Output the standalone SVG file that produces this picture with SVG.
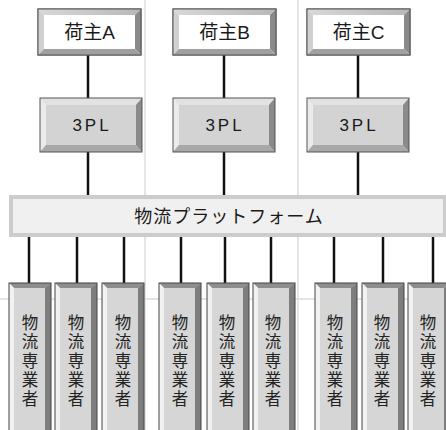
<svg xmlns="http://www.w3.org/2000/svg" width="446" height="430" viewBox="0 0 446 430">
<style>
.t{font-family:"Liberation Sans","Noto Sans CJK JP",sans-serif;font-size:19px;fill:#1a1a1a;text-anchor:middle}
.p{font-family:"Liberation Sans","Noto Sans CJK JP",sans-serif;font-size:17px;fill:#1a1a1a;text-anchor:middle;letter-spacing:3px}
.f{font-family:"Noto Sans CJK JP",sans-serif;font-size:18px;fill:#1a1a1a;text-anchor:middle;letter-spacing:1px}
.v{font-family:"Liberation Sans","Noto Sans CJK JP",sans-serif;font-size:16.5px;fill:#222;text-anchor:middle}
.ln{stroke:#111;stroke-width:2.5}
.grid{stroke:#ddd;stroke-width:1.5}
</style>
<defs>
<linearGradient id="gt" x1="0" y1="0" x2="1" y2="0"><stop offset="0" stop-color="#d8d8d8"/><stop offset="1" stop-color="#b8b8b8"/></linearGradient>
<g id="shipper">
<rect x="0" y="0" width="103" height="46" fill="#fff" stroke="#555" stroke-width="1"/>
<polygon points="0,0 103,0 97,6 6,6" fill="url(#gt)"/>
<polygon points="0,0 6,6 6,40 0,46" fill="#d0d0d0"/>
<polygon points="103,0 103,46 97,40 97,6" fill="#8a8a8a"/>
<polygon points="0,46 103,46 97,40 6,40" fill="#a0a0a0"/>
<rect x="0" y="0" width="103" height="46" fill="none" stroke="#555" stroke-width="1"/>
</g>
<g id="tpl">
<rect x="0" y="0" width="102" height="54" fill="#d3d3d3"/>
<polygon points="0,0 102,0 96,7 6,7" fill="#e2e2e2"/>
<polygon points="0,0 6,7 6,47 0,54" fill="#ebebeb"/>
<polygon points="102,0 102,54 96,47 96,7" fill="#8a8a8a"/>
<polygon points="0,54 102,54 96,47 6,47" fill="#a8a8a8"/>
<rect x="0" y="0" width="102" height="54" fill="none" stroke="#555" stroke-width="1"/>
</g>
<g id="vbox">
<rect x="0" y="0" width="42" height="160" fill="#d6d6d6"/>
<polygon points="0,0 42,0 36,5 5,5" fill="#8e8e8e"/>
<polygon points="0,0 5,5 5,160 0,160" fill="#f2f2f2"/>
<polygon points="42,0 42,160 36,160 36,5" fill="#7e7e7e"/>
<rect x="0" y="0" width="42" height="160" fill="none" stroke="#444" stroke-width="1"/>
</g>
</defs>
<rect width="446" height="430" fill="#fff"/>
<g id="grid">
<line class="grid" x1="145" y1="0" x2="145" y2="430"/>
<line class="grid" x1="298" y1="0" x2="298" y2="430"/>
<line class="grid" x1="0" y1="299" x2="446" y2="299"/>
</g>
<g id="connectors">
<line class="ln" x1="88" y1="55" x2="88" y2="98"/>
<line class="ln" x1="224" y1="55" x2="224" y2="98"/>
<line class="ln" x1="358" y1="55" x2="358" y2="98"/>
<line class="ln" x1="88" y1="152" x2="88" y2="195"/>
<line class="ln" x1="224" y1="152" x2="224" y2="195"/>
<line class="ln" x1="358" y1="152" x2="358" y2="195"/>
<line class="ln" x1="29" y1="237" x2="29" y2="283"/>
<line class="ln" x1="77" y1="237" x2="77" y2="283"/>
<line class="ln" x1="124" y1="237" x2="124" y2="283"/>
<line class="ln" x1="181" y1="237" x2="181" y2="283"/>
<line class="ln" x1="225" y1="237" x2="225" y2="283"/>
<line class="ln" x1="271" y1="237" x2="271" y2="283"/>
<line class="ln" x1="334" y1="237" x2="334" y2="283"/>
<line class="ln" x1="383" y1="237" x2="383" y2="283"/>
<line class="ln" x1="433" y1="237" x2="433" y2="283"/>
</g>
<g id="shipperA"><use href="#shipper" x="38" y="9"/><text class="t" x="89.5" y="39">荷主A</text></g>
<g id="shipperB"><use href="#shipper" x="173" y="9"/><text class="t" x="224.5" y="39">荷主B</text></g>
<g id="shipperC"><use href="#shipper" x="307" y="9"/><text class="t" x="358.5" y="39">荷主C</text></g>
<g id="tplA"><use href="#tpl" x="40" y="98"/><text class="p" x="92" y="131">3PL</text></g>
<g id="tplB"><use href="#tpl" x="173" y="98"/><text class="p" x="225" y="131">3PL</text></g>
<g id="tplC"><use href="#tpl" x="307" y="98"/><text class="p" x="359" y="131">3PL</text></g>
<g id="platform">
<rect x="9" y="195" width="437" height="42" fill="#cccccc"/>
<rect x="13" y="199" width="430" height="34" fill="#f0f0f0"/>
<text class="f" x="229" y="223">物流プラットフォーム</text>
</g>
<g id="v1"><use href="#vbox" x="9" y="283"/><text class="v" x="30" y="329"><tspan x="30">物</tspan><tspan x="30" dy="19">流</tspan><tspan x="30" dy="19">専</tspan><tspan x="30" dy="19">業</tspan><tspan x="30" dy="19">者</tspan></text></g>
<g id="v2"><use href="#vbox" x="55" y="283"/><text class="v" x="76" y="329"><tspan x="76">物</tspan><tspan x="76" dy="19">流</tspan><tspan x="76" dy="19">専</tspan><tspan x="76" dy="19">業</tspan><tspan x="76" dy="19">者</tspan></text></g>
<g id="v3"><use href="#vbox" x="102" y="283"/><text class="v" x="123" y="329"><tspan x="123">物</tspan><tspan x="123" dy="19">流</tspan><tspan x="123" dy="19">専</tspan><tspan x="123" dy="19">業</tspan><tspan x="123" dy="19">者</tspan></text></g>
<g id="v4"><use href="#vbox" x="159" y="283"/><text class="v" x="180" y="329"><tspan x="180">物</tspan><tspan x="180" dy="19">流</tspan><tspan x="180" dy="19">専</tspan><tspan x="180" dy="19">業</tspan><tspan x="180" dy="19">者</tspan></text></g>
<g id="v5"><use href="#vbox" x="207" y="283"/><text class="v" x="227" y="329"><tspan x="227">物</tspan><tspan x="227" dy="19">流</tspan><tspan x="227" dy="19">専</tspan><tspan x="227" dy="19">業</tspan><tspan x="227" dy="19">者</tspan></text></g>
<g id="v6"><use href="#vbox" x="253" y="283"/><text class="v" x="273" y="329"><tspan x="273">物</tspan><tspan x="273" dy="19">流</tspan><tspan x="273" dy="19">専</tspan><tspan x="273" dy="19">業</tspan><tspan x="273" dy="19">者</tspan></text></g>
<g id="v7"><use href="#vbox" x="315" y="283"/><text class="v" x="335" y="329"><tspan x="335">物</tspan><tspan x="335" dy="19">流</tspan><tspan x="335" dy="19">専</tspan><tspan x="335" dy="19">業</tspan><tspan x="335" dy="19">者</tspan></text></g>
<g id="v8"><use href="#vbox" x="362" y="283"/><text class="v" x="382" y="329"><tspan x="382">物</tspan><tspan x="382" dy="19">流</tspan><tspan x="382" dy="19">専</tspan><tspan x="382" dy="19">業</tspan><tspan x="382" dy="19">者</tspan></text></g>
<g id="v9"><use href="#vbox" x="408" y="283"/><text class="v" x="428" y="329"><tspan x="428">物</tspan><tspan x="428" dy="19">流</tspan><tspan x="428" dy="19">専</tspan><tspan x="428" dy="19">業</tspan><tspan x="428" dy="19">者</tspan></text></g>
</svg>
